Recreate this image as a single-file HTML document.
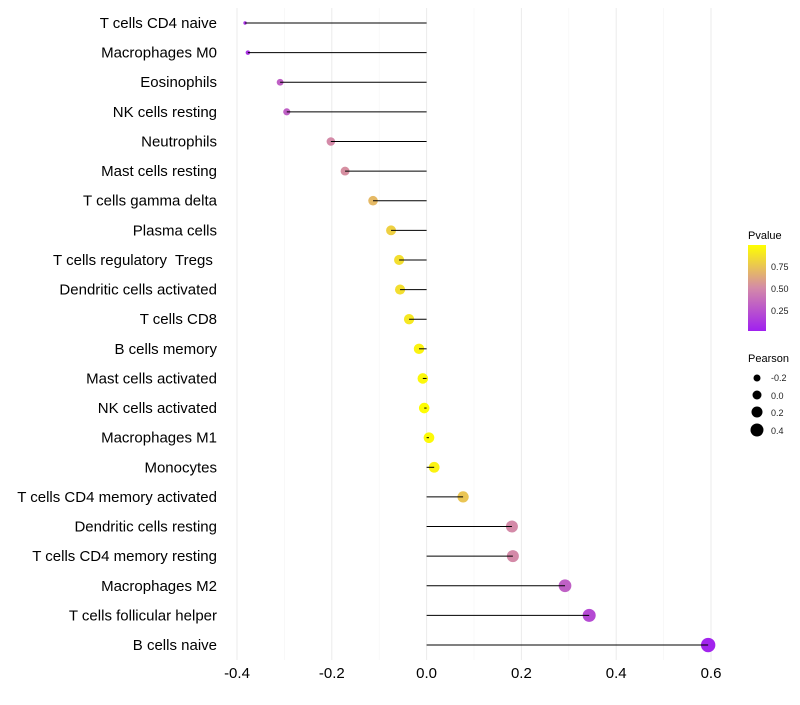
<!DOCTYPE html>
<html><head><meta charset="utf-8"><style>
body{margin:0;background:#fff;font-family:"Liberation Sans",sans-serif;}
svg text{font-family:"Liberation Sans",sans-serif;white-space:pre;}
</style></head><body>
<svg id="chart" width="800" height="700" xmlns="http://www.w3.org/2000/svg">
<defs><linearGradient id="pg" x1="0" y1="1" x2="0" y2="0">
<stop offset="0" stop-color="#a020f0"/><stop offset="0.5" stop-color="#d48aa8"/><stop offset="1" stop-color="#ffff00"/></linearGradient></defs>
<g id="grid"></g>
<g id="marks"></g>
<g id="ylabels"></g>
<g id="xlabels"></g>
<g>
<text x="748" y="239" font-size="11" fill="#000">Pvalue</text>
<rect x="748" y="245" width="18" height="86" fill="url(#pg)"/>
<text x="771" y="270" font-size="9" fill="#222">0.75</text>
<text x="771" y="292" font-size="9" fill="#222">0.50</text>
<text x="771" y="314" font-size="9" fill="#222">0.25</text>
</g>
<g>
<text x="748" y="362" font-size="11" fill="#000">Pearson</text>
<circle cx="757" cy="378" r="3.5" fill="#000"/><text x="771" y="381" font-size="9" fill="#222">-0.2</text>
<circle cx="757" cy="395" r="4.5" fill="#000"/><text x="771" y="399" font-size="9" fill="#222">0.0</text>
<circle cx="757" cy="412" r="5.5" fill="#000"/><text x="771" y="416" font-size="9" fill="#222">0.2</text>
<circle cx="757" cy="430" r="6.5" fill="#000"/><text x="771" y="434" font-size="9" fill="#222">0.4</text>
</g>
</svg>
<script>
const categories=["T cells CD4 naive","Macrophages M0","Eosinophils","NK cells resting","Neutrophils","Mast cells resting","T cells gamma delta","Plasma cells","T cells regulatory  Tregs ","Dendritic cells activated","T cells CD8","B cells memory","Mast cells activated","NK cells activated","Macrophages M1","Monocytes","T cells CD4 memory activated","Dendritic cells resting","T cells CD4 memory resting","Macrophages M2","T cells follicular helper","B cells naive"];
const pearson=[-0.383,-0.377,-0.309,-0.295,-0.202,-0.172,-0.113,-0.075,-0.058,-0.056,-0.037,-0.016,-0.008,-0.005,0.005,0.016,0.077,0.180,0.182,0.292,0.343,0.594];
const pvalue=[0.08,0.1,0.3,0.3,0.5,0.52,0.7,0.8,0.86,0.86,0.9,0.95,0.97,0.99,0.98,0.95,0.75,0.5,0.5,0.3,0.2,0.02];
const xticks=[-0.4,-0.2,0,0.2,0.4,0.6];
const xtickLabels=["-0.4","-0.2","0.0","0.2","0.4","0.6"];
const NS="http://www.w3.org/2000/svg";
const x=v=>426.6+v*474;
const y=i=>23+i*29.62;
const rad=v=>1.7+5.5*Math.pow(Math.max(0,(v+0.383)/0.977),0.45);
function col(p){
  const a=[160,32,240],m=[212,138,168],b=[255,255,0];
  let c;
  if(p<0.5){const t=p/0.5;c=a.map((v,k)=>v+(m[k]-v)*t);}else{const t=(p-0.5)/0.5;c=m.map((v,k)=>v+(b[k]-v)*t);}
  return `rgb(${c.map(Math.round).join(',')})`;
}
function mk(t,attrs,parent){const e=document.createElementNS(NS,t);for(const k in attrs)e.setAttribute(k,attrs[k]);parent.appendChild(e);return e;}
const grid=document.getElementById('grid'),marks=document.getElementById('marks'),yl=document.getElementById('ylabels'),xl=document.getElementById('xlabels');
for(let v=-0.5;v<=0.71;v+=0.1){
  const major=Math.abs(Math.round(v*10)%2)===0;
  const px=x(v);
  if(px<225||px>735)continue;
  const g=mk('line',{x1:px,x2:px,y1:8,y2:660,stroke:major?'#ebebeb':'#f4f4f4','stroke-width':major?1:0.6},grid);
  
  
}
xticks.forEach((v,i)=>{
  const t=mk('text',{x:x(v),y:678,'font-size':15,'text-anchor':'middle',fill:'#000'},xl);
  t.textContent=xtickLabels[i];
  
  
});
categories.forEach((c,i)=>{
  const cy=y(i);
  const dot=mk('circle',{cx:x(pearson[i]),cy:cy,r:rad(pearson[i]),fill:col(pvalue[i])},marks);
  
  
  const seg=mk('line',{x1:x(0),x2:x(pearson[i]),y1:cy,y2:cy,stroke:'#000','stroke-width':1},marks);
  
  
  const t=mk('text',{x:217,y:cy+5,'font-size':15,'text-anchor':'end',fill:'#000'},yl);
  t.textContent=c;
  
  
});
</script>
</body></html>
